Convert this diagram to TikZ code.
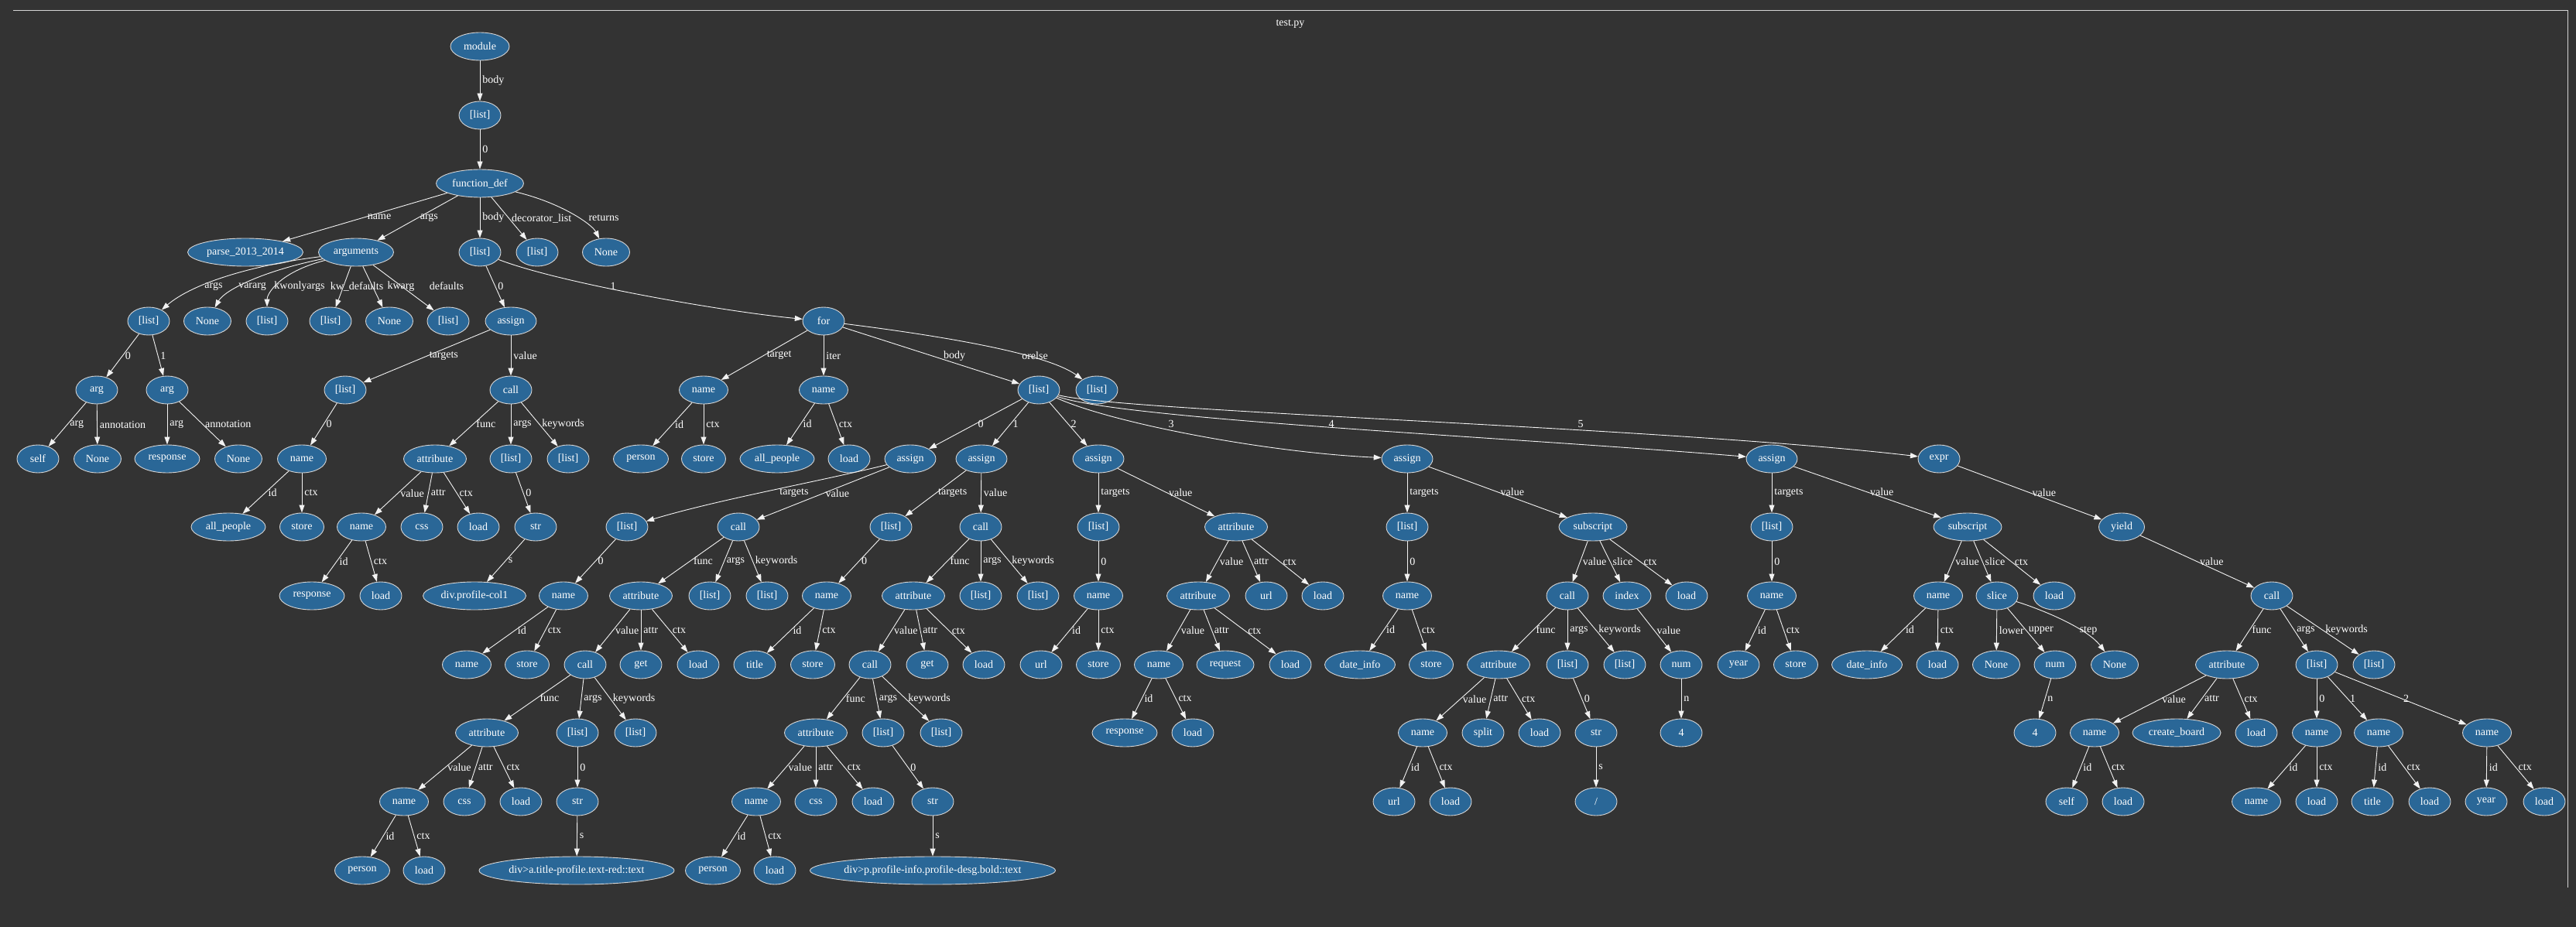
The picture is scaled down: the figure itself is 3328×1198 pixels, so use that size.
\documentclass[tikz,border=0pt]{standalone}
\usepackage{fontspec}
\setmainfont{Liberation Serif}
\usetikzlibrary{shapes.geometric,arrows.meta}
\definecolor{bgc}{HTML}{333333}
\definecolor{nblue}{HTML}{2A6797}
\definecolor{nline}{HTML}{D4D4D4}
\definecolor{eline}{HTML}{F2F2F2}
\newcommand{\edg}[3]{\draw[edgeline] (#1) -- node[lb] {#3} (#2);}
\begin{document}
\begin{tikzpicture}[x=1pt,y=-1pt,
 nd/.style={ellipse,draw=nline,line width=0.9pt,fill=nblue,text=white,minimum width=54pt,minimum height=36pt,inner sep=0pt,font=\fontsize{14}{16}\selectfont},
 mw/.style={minimum width=#1pt},
 edgeline/.style={draw=eline,line width=0.9pt,-{Triangle[length=10pt,width=7pt]}},
 lb/.style={text=white,font=\fontsize{14}{16}\selectfont,inner sep=1pt,anchor=west,pos=0.5,xshift=2pt},
 la/.style={text=white,font=\fontsize{14}{16}\selectfont,inner sep=0pt}]

\fill[bgc] (0,0) rectangle (3328,1198);
\draw[nline,line width=1pt] (17,14) -- (3317,14) -- (3317,1147);
\node[la] (title) at (1667,31) {test.py};

% row 0-3
\node[nd,mw=76] (mod) at (620,60) {module};
\node[nd] (l1) at (620,149) {[list]};
\node[nd,mw=113] (fd) at (620,237) {function\_def};
\node[nd,mw=149] (fname) at (317,326) {parse\_2013\_2014};
\node[nd,mw=97] (fargs) at (460,326) {arguments};
\node[nd] (fbody) at (620,326) {[list]};
\node[nd] (fdec) at (694,326) {[list]};
\node[nd,mw=61] (fret) at (783,326) {None};
% row 4
\node[nd] (aargs) at (192,415) {[list]};
\node[nd,mw=61] (avar) at (268,415) {None};
\node[nd] (akwo) at (345,415) {[list]};
\node[nd] (akwd) at (427,415) {[list]};
\node[nd,mw=61] (akw) at (503,415) {None};
\node[nd] (adef) at (579,415) {[list]};
\node[nd,mw=66] (as0) at (660,415) {assign};
\node[nd] (for) at (1064,415) {for};
% row 5
\node[nd] (arg0) at (125,504) {arg};
\node[nd] (arg1) at (216,504) {arg};
\node[nd] (as0t) at (446,504) {[list]};
\node[nd] (as0v) at (660,504) {call};
\node[nd,mw=63] (fort) at (909,504) {name};
\node[nd,mw=63] (fori) at (1064,504) {name};
\node[nd] (forb) at (1342,504) {[list]};
\node[nd] (foro) at (1417,504) {[list]};
% row 6
\node[nd] (self0) at (49,593) {self};
\node[nd,mw=61] (ann0) at (126,593) {None};
\node[nd,mw=84] (resp0) at (216,593) {response};
\node[nd,mw=61] (ann1) at (308,593) {None};
\node[nd,mw=63] (as0tn) at (390,593) {name};
\node[nd,mw=81] (as0va) at (562,593) {attribute};
\node[nd] (as0vl) at (660,593) {[list]};
\node[nd] (as0vk) at (734,593) {[list]};
\node[nd,mw=71] (fortid) at (828,593) {person};
\node[nd,mw=57] (fortc) at (909,593) {store};
\node[nd,mw=96] (forid) at (1004,593) {all\_people};
\node[nd] (foric) at (1097,593) {load};
\node[nd,mw=66] (b0) at (1176,593) {assign};
\node[nd,mw=66] (b1) at (1268,593) {assign};
\node[nd,mw=66] (b2) at (1419,593) {assign};
\node[nd,mw=66] (b3) at (1818,593) {assign};
\node[nd,mw=66] (b4) at (2289,593) {assign};
\node[nd] (b5) at (2505,593) {expr};
% row 7
\node[nd,mw=96] (as0tnid) at (295,681) {all\_people};
\node[nd,mw=57] (as0tnc) at (390,681) {store};
\node[nd,mw=63] (as0van) at (467,681) {name};
\node[nd] (as0vaa) at (545,681) {css};
\node[nd] (as0vac) at (618,681) {load};
\node[nd] (as0vls) at (692,681) {str};
\node[nd] (b0t) at (810,681) {[list]};
\node[nd] (b0v) at (954,681) {call};
\node[nd] (b1t) at (1151,681) {[list]};
\node[nd] (b1v) at (1267,681) {call};
\node[nd] (b2t) at (1419,681) {[list]};
\node[nd,mw=81] (b2v) at (1597,681) {attribute};
\node[nd] (b3t) at (1818,681) {[list]};
\node[nd,mw=88] (b3v) at (2058,681) {subscript};
\node[nd] (b4t) at (2289,681) {[list]};
\node[nd,mw=88] (b4v) at (2542,681) {subscript};
\node[nd,mw=59] (b5v) at (2741,681) {yield};
% row 8
\node[nd,mw=84] (as0vanid) at (403,770) {response};
\node[nd] (as0vanc) at (492,770) {load};
\node[nd,mw=133] (as0vlss) at (613,770) {div.profile-col1};
\node[nd,mw=63] (b0tn) at (728,770) {name};
\node[nd,mw=81] (b0vf) at (828,770) {attribute};
\node[nd] (b0va) at (917,770) {[list]};
\node[nd] (b0vk) at (991,770) {[list]};
\node[nd,mw=63] (b1tn) at (1068,770) {name};
\node[nd,mw=81] (b1vf) at (1180,770) {attribute};
\node[nd] (b1va) at (1267,770) {[list]};
\node[nd] (b1vk) at (1341,770) {[list]};
\node[nd,mw=63] (b2tn) at (1419,770) {name};
\node[nd,mw=81] (b2vv) at (1548,770) {attribute};
\node[nd] (b2va) at (1636,770) {url};
\node[nd] (b2vc) at (1709,770) {load};
\node[nd,mw=63] (b3tn) at (1818,770) {name};
\node[nd] (b3vv) at (2025,770) {call};
\node[nd,mw=62] (b3vs) at (2102,770) {index};
\node[nd] (b3vc) at (2179,770) {load};
\node[nd,mw=63] (b4tn) at (2289,770) {name};
\node[nd,mw=63] (b4vv) at (2504,770) {name};
\node[nd] (b4vs) at (2580,770) {slice};
\node[nd] (b4vc) at (2654,770) {load};
\node[nd] (b5vv) at (2935,770) {call};
% row 9
\node[nd,mw=63] (b0tnid) at (603,859) {name};
\node[nd,mw=57] (b0tnc) at (681,859) {store};
\node[nd] (b0vfv) at (756,859) {call};
\node[nd] (b0vfa) at (828,859) {get};
\node[nd] (b0vfc) at (902,859) {load};
\node[nd] (b1tnid) at (975,859) {title};
\node[nd,mw=57] (b1tnc) at (1050,859) {store};
\node[nd] (b1vfv) at (1124,859) {call};
\node[nd] (b1vfa) at (1198,859) {get};
\node[nd] (b1vfc) at (1271,859) {load};
\node[nd] (b2tnid) at (1345,859) {url};
\node[nd,mw=57] (b2tnc) at (1419,859) {store};
\node[nd,mw=63] (b2vvv) at (1497,859) {name};
\node[nd,mw=74] (b2vva) at (1583,859) {request};
\node[nd] (b2vvc) at (1667,859) {load};
\node[nd,mw=91] (b3tnid) at (1757,859) {date\_info};
\node[nd,mw=57] (b3tnc) at (1849,859) {store};
\node[nd,mw=81] (b3vvf) at (1936,859) {attribute};
\node[nd] (b3vva) at (2025,859) {[list]};
\node[nd] (b3vvk) at (2099,859) {[list]};
\node[nd] (b3vsv) at (2172,859) {num};
\node[nd] (b4tnid) at (2246,859) {year};
\node[nd,mw=57] (b4tnc) at (2320,859) {store};
\node[nd,mw=91] (b4vvid) at (2412,859) {date\_info};
\node[nd] (b4vvc) at (2503,859) {load};
\node[nd,mw=61] (b4vsl) at (2579,859) {None};
\node[nd] (b4vsu) at (2655,859) {num};
\node[nd,mw=61] (b4vss) at (2732,859) {None};
\node[nd,mw=81] (b5vvf) at (2877,859) {attribute};
\node[nd] (b5vva) at (2993,859) {[list]};
\node[nd] (b5vvk) at (3067,859) {[list]};
% row 10
\node[nd,mw=81] (b0vfvf) at (629,947) {attribute};
\node[nd] (b0vfva) at (746,947) {[list]};
\node[nd] (b0vfvk) at (821,947) {[list]};
\node[nd,mw=81] (b1vfvf) at (1054,947) {attribute};
\node[nd] (b1vfva) at (1141,947) {[list]};
\node[nd] (b1vfvk) at (1216,947) {[list]};
\node[nd,mw=84] (b2vvvid) at (1453,947) {response};
\node[nd] (b2vvvc) at (1541,947) {load};
\node[nd,mw=63] (b3vvfv) at (1838,947) {name};
\node[nd] (b3vvfa) at (1916,947) {split};
\node[nd] (b3vvfc) at (1989,947) {load};
\node[nd] (b3vvas) at (2062,947) {str};
\node[nd] (b3vsvn) at (2172,947) {4};
\node[nd] (b4vsun) at (2629,947) {4};
\node[nd,mw=63] (b5vvfv) at (2706,947) {name};
\node[nd,mw=114] (b5vvfa) at (2812,947) {create\_board};
\node[nd] (b5vvfc) at (2915,947) {load};
\node[nd,mw=63] (b5a0) at (2993,947) {name};
\node[nd,mw=63] (b5a1) at (3073,947) {name};
\node[nd,mw=63] (b5a2) at (3213,947) {name};
% row 11
\node[nd,mw=63] (b0vfvfv) at (522,1036) {name};
\node[nd] (b0vfvfa) at (600,1036) {css};
\node[nd] (b0vfvfc) at (673,1036) {load};
\node[nd] (b0vfvas) at (746,1036) {str};
\node[nd,mw=63] (b1vfvfv) at (977,1036) {name};
\node[nd] (b1vfvfa) at (1054,1036) {css};
\node[nd] (b1vfvfc) at (1128,1036) {load};
\node[nd] (b1vfvas) at (1205,1036) {str};
\node[nd] (b3vvfvid) at (1801,1036) {url};
\node[nd] (b3vvfvc) at (1874,1036) {load};
\node[nd] (b3vvass) at (2062,1036) {/};
\node[nd] (b5vvfvid) at (2670,1036) {self};
\node[nd] (b5vvfvc) at (2743,1036) {load};
\node[nd,mw=63] (b5a0id) at (2915,1036) {name};
\node[nd] (b5a0c) at (2993,1036) {load};
\node[nd] (b5a1id) at (3065,1036) {title};
\node[nd] (b5a1c) at (3139,1036) {load};
\node[nd] (b5a2id) at (3212,1036) {year};
\node[nd] (b5a2c) at (3287,1036) {load};
% row 12
\node[nd,mw=71] (b0vfvfvid) at (468,1125) {person};
\node[nd] (b0vfvfvc) at (548,1125) {load};
\node[nd,mw=252] (b0vfvass) at (745,1125) {div>a.title-profile.text-red::text};
\node[nd,mw=71] (b1vfvfvid) at (921,1125) {person};
\node[nd] (b1vfvfvc) at (1001,1125) {load};
\node[nd,mw=317] (b1vfvass) at (1205,1125) {\makebox[0pt]{div>p.profile-info.profile-desg.bold::text}};

% edges
\edg{mod}{l1}{body}
\edg{l1}{fd}{0}
\edg{fd}{fname}{name}
\edg{fd}{fargs}{args}
\edg{fd}{fbody}{body}
\edg{fd}{fdec}{decorator\_list}
\draw[edgeline] (fd) .. controls (725,262) and (765,290) .. (fret) node[la] at (780,282) {returns};
\draw[edgeline] (fargs) .. controls (330,342) and (250,365) .. (aargs) node[la] at (276,370) {args};
\draw[edgeline] (fargs) .. controls (340,350) and (290,375) .. (avar) node[la] at (326,370) {vararg};
\draw[edgeline] (fargs) .. controls (360,352) and (345,380) .. (akwo) node[la] at (387,370) {kwonlyargs};
\draw[edgeline] (fargs) -- (akwd) node[la] at (461,370) {kw\_defaults};
\draw[edgeline] (fargs) -- (akw) node[la] at (518,370) {kwarg};
\draw[edgeline] (fargs) -- (adef) node[la] at (577,370) {defaults};
\edg{fbody}{as0}{0}
\draw[edgeline] (fbody) .. controls (720,365) and (930,402) .. (for) node[la] at (792,370) {1};
\edg{aargs}{arg0}{0}
\edg{aargs}{arg1}{1}
\edg{as0}{as0t}{targets}
\edg{as0}{as0v}{value}
\edg{for}{fort}{target}
\edg{for}{fori}{iter}
\draw[edgeline] (for) -- (forb) node[la] at (1233,460) {body};
\draw[edgeline] (for) .. controls (1200,432) and (1350,455) .. (foro) node[la] at (1337,460) {orelse};
\edg{arg0}{self0}{arg}
\edg{arg0}{ann0}{annotation}
\edg{arg1}{resp0}{arg}
\edg{arg1}{ann1}{annotation}
\edg{as0t}{as0tn}{0}
\edg{as0v}{as0va}{func}
\edg{as0v}{as0vl}{args}
\edg{as0v}{as0vk}{keywords}
\edg{fort}{fortid}{id}
\edg{fort}{fortc}{ctx}
\edg{fori}{forid}{id}
\edg{fori}{foric}{ctx}
\edg{forb}{b0}{0}
\edg{forb}{b1}{1}
\edg{forb}{b2}{2}
\draw[edgeline] (forb) .. controls (1440,548) and (1640,585) .. (b3) node[la] at (1513,548) {3};
\draw[edgeline] (forb) .. controls (1450,542) and (1950,565) .. (b4) node[la] at (1720,548) {4};
\draw[edgeline] (forb) .. controls (1450,532) and (2150,552) .. (b5) node[la] at (2042,548) {5};
\edg{as0tn}{as0tnid}{id}
\edg{as0tn}{as0tnc}{ctx}
\edg{as0va}{as0van}{value}
\edg{as0va}{as0vaa}{attr}
\edg{as0va}{as0vac}{ctx}
\edg{as0vl}{as0vls}{0}
\draw[edgeline] (b0) .. controls (1060,622) and (930,645) .. (b0t) node[la] at (1026,637) {targets};
\edg{b0}{b0v}{value}
\edg{b1}{b1t}{targets}
\edg{b1}{b1v}{value}
\edg{b2}{b2t}{targets}
\edg{b2}{b2v}{value}
\edg{b3}{b3t}{targets}
\edg{b3}{b3v}{value}
\edg{b4}{b4t}{targets}
\edg{b4}{b4v}{value}
\edg{b5}{b5v}{value}
\edg{as0van}{as0vanid}{id}
\edg{as0van}{as0vanc}{ctx}
\edg{as0vls}{as0vlss}{s}
\edg{b0t}{b0tn}{0}
\edg{b0v}{b0vf}{func}
\edg{b0v}{b0va}{args}
\edg{b0v}{b0vk}{keywords}
\edg{b1t}{b1tn}{0}
\edg{b1v}{b1vf}{func}
\edg{b1v}{b1va}{args}
\edg{b1v}{b1vk}{keywords}
\edg{b2t}{b2tn}{0}
\edg{b2v}{b2vv}{value}
\edg{b2v}{b2va}{attr}
\edg{b2v}{b2vc}{ctx}
\edg{b3t}{b3tn}{0}
\edg{b3v}{b3vv}{value}
\edg{b3v}{b3vs}{slice}
\edg{b3v}{b3vc}{ctx}
\edg{b4t}{b4tn}{0}
\edg{b4v}{b4vv}{value}
\edg{b4v}{b4vs}{slice}
\edg{b4v}{b4vc}{ctx}
\edg{b5v}{b5vv}{value}
\edg{b0tn}{b0tnid}{id}
\edg{b0tn}{b0tnc}{ctx}
\edg{b0vf}{b0vfv}{value}
\edg{b0vf}{b0vfa}{attr}
\edg{b0vf}{b0vfc}{ctx}
\edg{b1tn}{b1tnid}{id}
\edg{b1tn}{b1tnc}{ctx}
\edg{b1vf}{b1vfv}{value}
\edg{b1vf}{b1vfa}{attr}
\edg{b1vf}{b1vfc}{ctx}
\edg{b2tn}{b2tnid}{id}
\edg{b2tn}{b2tnc}{ctx}
\edg{b2vv}{b2vvv}{value}
\edg{b2vv}{b2vva}{attr}
\edg{b2vv}{b2vvc}{ctx}
\edg{b3tn}{b3tnid}{id}
\edg{b3tn}{b3tnc}{ctx}
\edg{b3vv}{b3vvf}{func}
\edg{b3vv}{b3vva}{args}
\edg{b3vv}{b3vvk}{keywords}
\edg{b3vs}{b3vsv}{value}
\edg{b4tn}{b4tnid}{id}
\edg{b4tn}{b4tnc}{ctx}
\edg{b4vv}{b4vvid}{id}
\edg{b4vv}{b4vvc}{ctx}
\edg{b4vs}{b4vsl}{lower}
\edg{b4vs}{b4vsu}{upper}
\draw[edgeline] (b4vs) .. controls (2630,785) and (2695,810) .. (b4vss) node[la] at (2698,815) {step};
\edg{b5vv}{b5vvf}{func}
\edg{b5vv}{b5vva}{args}
\edg{b5vv}{b5vvk}{keywords}
\edg{b0vfv}{b0vfvf}{func}
\edg{b0vfv}{b0vfva}{args}
\edg{b0vfv}{b0vfvk}{keywords}
\edg{b1vfv}{b1vfvf}{func}
\edg{b1vfv}{b1vfva}{args}
\edg{b1vfv}{b1vfvk}{keywords}
\edg{b2vvv}{b2vvvid}{id}
\edg{b2vvv}{b2vvvc}{ctx}
\edg{b3vvf}{b3vvfv}{value}
\edg{b3vvf}{b3vvfa}{attr}
\edg{b3vvf}{b3vvfc}{ctx}
\edg{b3vva}{b3vvas}{0}
\edg{b3vsv}{b3vsvn}{n}
\edg{b4vsu}{b4vsun}{n}
\edg{b5vvf}{b5vvfv}{value}
\edg{b5vvf}{b5vvfa}{attr}
\edg{b5vvf}{b5vvfc}{ctx}
\edg{b5vva}{b5a0}{0}
\edg{b5vva}{b5a1}{1}
\edg{b5vva}{b5a2}{2}
\edg{b0vfvf}{b0vfvfv}{value}
\edg{b0vfvf}{b0vfvfa}{attr}
\edg{b0vfvf}{b0vfvfc}{ctx}
\edg{b0vfva}{b0vfvas}{0}
\edg{b1vfvf}{b1vfvfv}{value}
\edg{b1vfvf}{b1vfvfa}{attr}
\edg{b1vfvf}{b1vfvfc}{ctx}
\edg{b1vfva}{b1vfvas}{0}
\edg{b3vvfv}{b3vvfvid}{id}
\edg{b3vvfv}{b3vvfvc}{ctx}
\edg{b3vvas}{b3vvass}{s}
\edg{b5vvfv}{b5vvfvid}{id}
\edg{b5vvfv}{b5vvfvc}{ctx}
\edg{b5a0}{b5a0id}{id}
\edg{b5a0}{b5a0c}{ctx}
\edg{b5a1}{b5a1id}{id}
\edg{b5a1}{b5a1c}{ctx}
\edg{b5a2}{b5a2id}{id}
\edg{b5a2}{b5a2c}{ctx}
\edg{b0vfvfv}{b0vfvfvid}{id}
\edg{b0vfvfv}{b0vfvfvc}{ctx}
\edg{b0vfvas}{b0vfvass}{s}
\edg{b1vfvfv}{b1vfvfvid}{id}
\edg{b1vfvfv}{b1vfvfvc}{ctx}
\edg{b1vfvas}{b1vfvass}{s}
\end{tikzpicture}
\end{document}
